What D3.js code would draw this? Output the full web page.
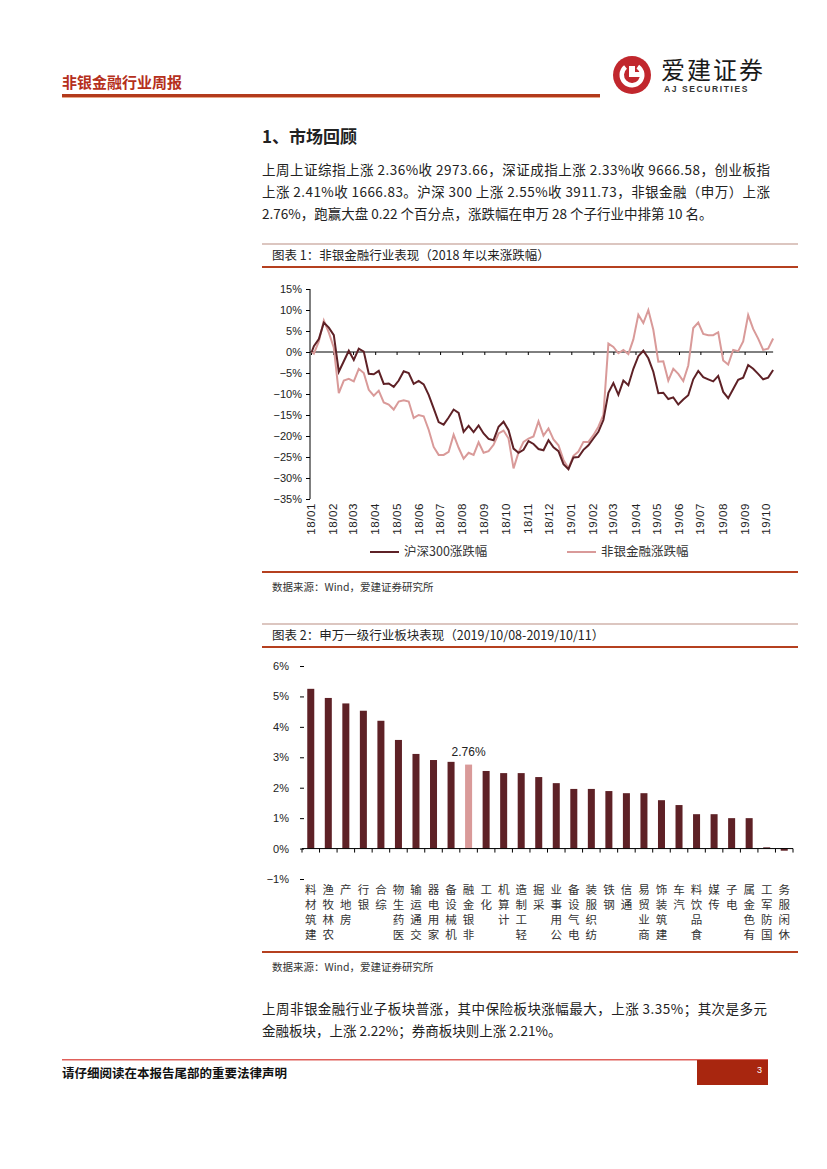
<!DOCTYPE html>
<html lang="zh-CN">
<head>
<meta charset="UTF-8">
<title>非银金融行业周报</title>
<style>
  body { margin: 0; background: #fff; }
  svg text { font-family: "Noto Sans CJK SC", "Noto Sans", sans-serif; fill: #222; }
  svg .num, svg .num text { font-family: "Liberation Sans", Arial, sans-serif; }
</style>
</head>
<body>
<svg id="page" width="827" height="1169"></svg>
<script src="https://cdn.jsdelivr.net/npm/d3@7/dist/d3.min.js"></script>
<script>
// 图表1：2018年以来涨跌幅（%），首点为2018-01-02，其后每周五一个点
const seriesStart = "2018-01-02";
const hs300 = [0, 1.4, 3.1, 7.0, 5.8, 4.0, -4.7, -2.2, 0.3, -1.9, 0.8,
  0.1, -5.2, -5.3, -4.5, -7.6, -7.5, -8.3, -6.8, -4.6, -5.0,
  -7.6, -6.9, -7.7, -10.2, -13.4, -16.7, -17.3, -15.6, -13.7, -14.5,
  -19.0, -17.6, -19.1, -17.5, -19.4, -20.7, -21.0, -17.8, -16.6, -18.6,
  -23.0, -24.0, -23.3, -21.2, -21.9, -23.1, -23.4, -21.0, -22.7, -23.6,
  -26.7, -27.9, -25.1, -25.0, -23.3, -22.2, -20.6, -19.0, -16.2, -9.7,
  -7.4, -10.2, -6.8, -7.9, -4.0, -1.0, 0.3, -1.5, -4.7, -9.8,
  -9.7, -11.2, -10.8, -12.5, -11.3, -10.3, -6.5, -4.5, -6.0, -6.5,
  -7.0, -5.7, -9.5, -11.0, -8.8, -6.6, -6.1, -3.1, -4.0, -5.2,
  -6.5, -6.1, -4.3];
const nonBank = [0, -0.4, 2.5, 7.5, 4.6, 1.0, -9.8, -6.8, -6.4, -7.0, -4.0,
  -5.0, -9.0, -10.4, -9.2, -12.0, -12.5, -13.7, -11.8, -11.5, -11.8,
  -15.7, -15.0, -15.3, -18.5, -22.6, -24.5, -24.5, -23.8, -19.7, -22.8,
  -25.4, -24.0, -24.5, -21.5, -24.0, -23.6, -22.1, -19.4, -18.7, -20.6,
  -27.7, -23.9, -21.4, -20.6, -20.1, -16.5, -19.9, -18.2, -20.8, -22.2,
  -25.7, -27.7, -24.7, -23.7, -21.4, -21.4, -19.8, -17.8, -15.0, 2.0,
  1.2, -0.3, 0.5, -0.5, 3.0, 8.9, 6.9, 10.0, 5.3, -2.3,
  -2.2, -6.8, -4.0, -5.2, -6.9, -3.2, 5.7, 7.0, 4.3, 4.0,
  4.0, 4.7, -2.0, -3.0, 0.5, 0.2, 2.5, 8.8, 5.5, 3.2,
  0.5, 0.8, 3.2];
const monthLabels = ["18/01", "18/02", "18/03", "18/04", "18/05", "18/06", "18/07", "18/08", "18/09", "18/10", "18/11", "18/12",
  "19/01", "19/02", "19/03", "19/04", "19/05", "19/06", "19/07", "19/08", "19/09", "19/10"];
const lineTicks = [15, 10, 5, 0, -5, -10, -15, -20, -25, -30, -35];
const lineNames = ["沪深300涨跌幅", "非银金融涨跌幅"];

// 图表2：申万一级行业 2019/10/08-2019/10/11 涨跌幅（%）
const industries = ["建筑材料", "农林牧渔", "房地产", "银行", "综合", "医药生物", "交通运输", "家用电器", "机械设备", "非银金融",
  "化工", "计算机", "轻工制造", "采掘", "公用事业", "电气设备", "纺织服装", "钢铁", "通信", "商业贸易",
  "建筑装饰", "汽车", "食品饮料", "传媒", "电子", "有色金属", "国防军工", "休闲服务"];
const weekChange = [5.25, 4.95, 4.77, 4.53, 4.20, 3.57, 3.11, 2.91, 2.85, 2.76,
  2.55, 2.48, 2.48, 2.35, 2.15, 1.96, 1.96, 1.89, 1.82, 1.82,
  1.59, 1.43, 1.13, 1.13, 1.00, 1.00, 0.04, -0.07];
const barTicks = [6, 5, 4, 3, 2, 1, 0, -1];
const highlight = "非银金融";

const DARK = "#5e2126", PINK = "#d99a99", RULE = "#b5401f", LIGHTRULE = "#dcc6c0";

const svg = d3.select("#page");

// ---------- 页眉 ----------
svg.append("text").attr("x", 62).attr("y", 88).attr("font-size", 15).attr("font-weight", "bold")
  .style("fill", "#b5301c").text("非银金融行业周报");
svg.append("rect").attr("x", 62).attr("y", 94).attr("width", 538).attr("height", 3).attr("fill", "#b23a1c");
svg.append("rect").attr("x", 62).attr("y", 97).attr("width", 538).attr("height", 1).attr("fill", "#e9a586");

// logo
const logo = svg.append("g").attr("transform", "translate(632,75)");
logo.append("circle").attr("r", 19).attr("fill", "#c1272d");
logo.append("path").attr("d", d3.arc()({innerRadius: 8, outerRadius: 12.5, startAngle: 0.6, endAngle: 5.6}))
  .attr("fill", "#fff");
logo.append("rect").attr("x", -3).attr("y", -9).attr("width", 6).attr("height", 11).attr("fill", "#fff");
logo.append("rect").attr("x", -3).attr("y", -3).attr("width", 12).attr("height", 5).attr("fill", "#fff");
svg.append("text").attr("x", 661).attr("y", 79).attr("font-size", 24).attr("letter-spacing", 2)
  .style("fill", "#1a1a1a").text("爱建证券");
svg.append("text").attr("class", "num").attr("x", 664).attr("y", 92).attr("font-size", 8.5)
  .attr("font-weight", "bold").attr("letter-spacing", 1.6).style("fill", "#333").text("AJ SECURITIES");

// ---------- 正文 ----------
svg.append("text").attr("x", 262).attr("y", 143).attr("font-size", 17).attr("font-weight", "bold").text("1、市场回顾");

const para1 = [
  ["上周上证综指上涨 2.36%收 2973.66，深证成指上涨 2.33%收 9666.58，创业板指", 508],
  ["上涨 2.41%收 1666.83。沪深 300 上涨 2.55%收 3911.73，非银金融（申万）上涨", 508],
  ["2.76%，跑赢大盘 0.22 个百分点，涨跌幅在申万 28 个子行业中排第 10 名。", 0]
];
para1.forEach((p, i) => {
  const t = svg.append("text").attr("x", 262).attr("y", 175 + i * 22).attr("font-size", 13.5).text(p[0]);
  if (p[1]) t.attr("textLength", p[1]).attr("lengthAdjust", "spacing");
});

function figureFrame(yTop, title, yBottomRule, yBottomText) {
  svg.append("rect").attr("x", 262).attr("y", yTop).attr("width", 536).attr("height", 2).attr("fill", LIGHTRULE);
  svg.append("text").attr("x", 272).attr("y", yTop + 17).attr("font-size", 12.5).text(title);
  svg.append("rect").attr("x", 262).attr("y", yTop + 23).attr("width", 536).attr("height", 2).attr("fill", RULE);
  svg.append("rect").attr("x", 262).attr("y", yBottomRule).attr("width", 536).attr("height", 2).attr("fill", RULE);
  svg.append("text").attr("x", 272).attr("y", yBottomText).attr("font-size", 10.5).style("fill", "#333")
    .text("数据来源：Wind，爱建证券研究所");
}

// ---------- 图表1 ----------
figureFrame(243, "图表 1：非银金融行业表现（2018 年以来涨跌幅）", 571, 591);

const parseMonth = d3.timeParse("%y/%m");
const start = d3.timeParse("%Y-%m-%d")(seriesStart);
const fridays = d3.timeFriday.range(d3.timeDay.offset(start, 1), d3.timeDay.offset(start, 700)).slice(0, hs300.length - 1);
const dates = [start].concat(fridays);

const x1 = d3.scaleTime().domain([parseMonth("18/01"), parseMonth("19/10")]).range([311, 766]);
const y1 = d3.scaleLinear().domain([-35, 15]).range([499, 289]);

const g1 = svg.append("g").attr("class", "num");
const fmt = d3.format("d");
g1.append("g").attr("transform", "translate(310,0)")
  .call(d3.axisLeft(y1).tickValues(lineTicks).tickSize(4).tickPadding(4).tickFormat(d => fmt(d) + "%"))
  .call(g => g.selectAll("text").attr("font-size", 11).style("fill", "#222"))
  .call(g => g.select(".domain").attr("d", "M0," + y1(15) + "V" + y1(-35)));

// 零轴与月度刻度
g1.append("g").attr("transform", "translate(0," + y1(0) + ")")
  .call(d3.axisBottom(x1).tickValues(monthLabels.map(parseMonth)).tickSize(3).tickFormat(""))
  .call(g => g.select(".domain").attr("d", "M310,0H" + x1(dates[dates.length - 1])));

// 月份标签（底部竖排）
g1.append("g").selectAll("text").data(monthLabels).join("text")
  .attr("transform", d => "translate(" + x1(parseMonth(d)) + ",503) rotate(-90)")
  .attr("text-anchor", "end").attr("dy", "0.35em").attr("font-size", 11.5).attr("letter-spacing", 0.6)
  .style("fill", "#222").text(d => d);

const line = d3.line().x((d, i) => x1(dates[i])).y(d => y1(d));
svg.append("path").datum(nonBank).attr("d", line).attr("fill", "none").attr("stroke", PINK).attr("stroke-width", 2);
svg.append("path").datum(hs300).attr("d", line).attr("fill", "none").attr("stroke", DARK).attr("stroke-width", 2);

// 图例
const legend = svg.append("g");
[[370, DARK], [567, PINK]].forEach((l, i) => {
  legend.append("line").attr("x1", l[0]).attr("x2", l[0] + 29).attr("y1", 552).attr("y2", 552)
    .attr("stroke", l[1]).attr("stroke-width", 2);
  legend.append("text").attr("x", l[0] + 34).attr("y", 552).attr("dy", "0.35em").attr("font-size", 12.5)
    .style("fill", "#333").text(lineNames[i]);
});

// ---------- 图表2 ----------
figureFrame(623, "图表 2：申万一级行业板块表现（2019/10/08-2019/10/11）", 951, 971);

const x2 = d3.scaleBand().domain(industries).range([302, 793]).paddingInner(0.6).paddingOuter(0.3);
const y2 = d3.scaleLinear().domain([-1, 6]).range([879, 666]);

const g2 = svg.append("g").attr("class", "num");
g2.append("g").attr("transform", "translate(304,0)")
  .call(d3.axisLeft(y2).tickValues(barTicks).tickSize(4).tickPadding(11).tickFormat(d => fmt(d) + "%"))
  .call(g => g.select(".domain").remove())
  .call(g => g.selectAll("text").attr("font-size", 11).style("fill", "#222"));

g2.selectAll("rect.bar").data(industries).join("rect").attr("class", "bar")
  .attr("x", d => x2(d))
  .attr("width", x2.bandwidth())
  .attr("y", (d, i) => y2(Math.max(0, weekChange[i])))
  .attr("height", (d, i) => Math.abs(y2(weekChange[i]) - y2(0)))
  .attr("fill", d => d === highlight ? PINK : DARK);

// 横轴线与分隔刻度
g2.append("line").attr("x1", 302).attr("x2", 793).attr("y1", y2(0)).attr("y2", y2(0)).attr("stroke", "#000");
g2.selectAll("line.sep").data(d3.range(industries.length + 1)).join("line").attr("class", "sep")
  .attr("x1", i => x2.range()[0] + i * x2.step()).attr("x2", i => x2.range()[0] + i * x2.step())
  .attr("y1", y2(0)).attr("y2", y2(0) + 4).attr("stroke", "#000");

// 数据标签
const hi = industries.indexOf(highlight);
g2.append("text").attr("x", x2(highlight) + x2.bandwidth() / 2).attr("y", y2(weekChange[hi]) - 9)
  .attr("text-anchor", "middle").attr("font-size", 12).style("fill", "#222")
  .text(d3.format(".2f")(weekChange[hi]) + "%");

// 竖排行业名称（末字在上）
const labels = svg.append("g");
industries.forEach(name => {
  const chars = Array.from(name);
  labels.append("g").selectAll("text").data(chars).join("text")
    .attr("x", x2(name) + x2.bandwidth() / 2)
    .attr("y", (c, i) => 890 + (chars.length - 1 - i) * 15)
    .attr("dy", "0.35em").attr("text-anchor", "middle").attr("font-size", 11.5)
    .style("fill", "#333").text(c => c);
});

// ---------- 结论 ----------
svg.append("text").attr("x", 262).attr("y", 1014).attr("font-size", 13.5)
  .attr("textLength", 505).attr("lengthAdjust", "spacing")
  .text("上周非银金融行业子板块普涨，其中保险板块涨幅最大，上涨 3.35%；其次是多元");
svg.append("text").attr("x", 262).attr("y", 1036).attr("font-size", 13.5)
  .text("金融板块，上涨 2.22%；券商板块则上涨 2.21%。");

// ---------- 页脚 ----------
svg.append("rect").attr("x", 62).attr("y", 1059).attr("width", 706).attr("height", 1.5).attr("fill", "#e0605a");
svg.append("text").attr("x", 62).attr("y", 1078).attr("font-size", 12.5).attr("font-weight", "bold")
  .style("fill", "#111").text("请仔细阅读在本报告尾部的重要法律声明");
svg.append("rect").attr("x", 697).attr("y", 1060).attr("width", 71).attr("height", 25).attr("fill", "#a8260f");
svg.append("text").attr("class", "num").attr("x", 757).attr("y", 1073).attr("font-size", 9)
  .style("fill", "#fff").text("3");
</script>
</body>
</html>
